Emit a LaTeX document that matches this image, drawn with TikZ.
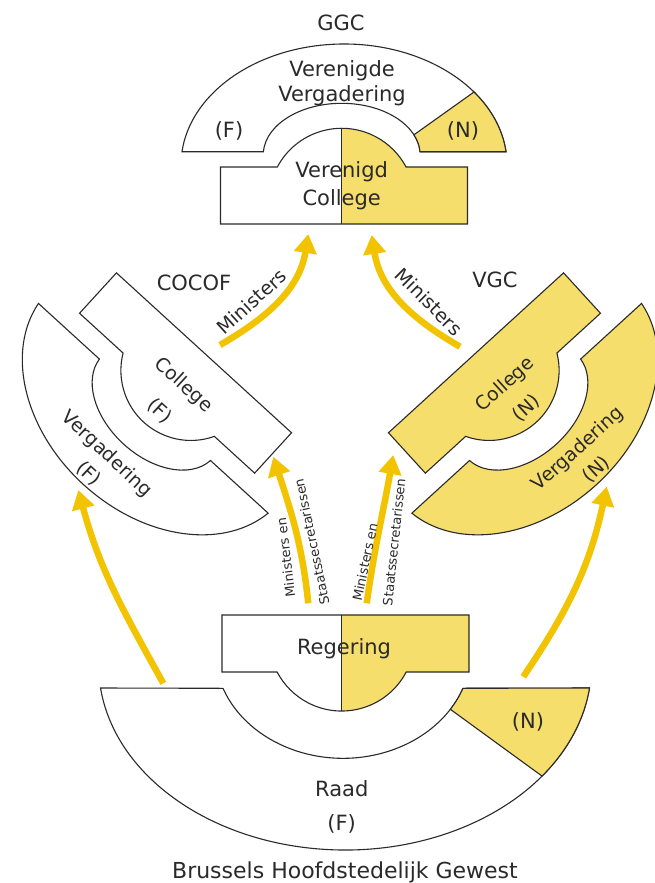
\documentclass[tikz,border=0pt]{standalone}
\usepackage{fontspec}
\setmainfont{DejaVu Sans}
\usetikzlibrary{arrows.meta}
\definecolor{ylw}{HTML}{F6DE6C}
\definecolor{arrowy}{HTML}{F2C300}
\definecolor{ink}{HTML}{2A2A2A}
\newcommand\sidegroup[1]{%
  \filldraw[shp, fill=#1] (162,0) arc[start angle=6.31,end angle=173.69,x radius=163,y radius=121]
     -- (-80.64,0) arc[start angle=176.34,end angle=3.66,x radius=78.5,y radius=51.7] -- cycle;
  \begin{scope}[yshift=-6pt]
    \filldraw[shp, fill=#1] (-123.5,-15.3) -- (-66.68,-15.3) arc[start angle=152.02,end angle=27.98,radius=72.9]
       -- (123.5,-15.3) -- (123.5,-72.3) -- (-123.5,-72.3) -- cycle;
  \end{scope}}
\begin{document}
\begin{tikzpicture}[x=1pt,y=1pt,
  shp/.style={draw=ink, line width=1.1pt, line join=miter},
  arr/.style={draw=arrowy, line width=6.5pt, -{Triangle[length=19pt,width=22pt]}},
  big/.style={font=\fontsize{21}{24}\selectfont, text=ink, inner sep=0pt, align=center},
  mid/.style={text=ink, inner sep=0pt, align=center},
  sml/.style={font=\fontsize{13}{15}\selectfont, text=ink, inner sep=0pt}]
\useasboundingbox[fill=white] (0,0) rectangle (654,-883);

% ---------------- GGC ----------------
\begin{scope}[shift={(344,-151.7)}]
  \filldraw[shp, fill=white] (162,0) arc[start angle=6.31,end angle=173.69,x radius=163,y radius=121]
     -- (-80.64,0) arc[start angle=176.34,end angle=3.66,x radius=78.5,y radius=51.7] -- cycle;
  \filldraw[shp, fill=ylw] (162,0) arc[start angle=6.31,end angle=37.1,x radius=163,y radius=121]
     -- (69.96,16.9) arc[start angle=23.0,end angle=3.66,x radius=78.5,y radius=51.7] -- cycle;
  \fill[white] (-123.5,-15.3) -- (-66.68,-15.3) arc[start angle=152.02,end angle=27.98,radius=72.9]
     -- (123.5,-15.3) -- (123.5,-72.3) -- (-123.5,-72.3) -- cycle;
  \fill[ylw] (-2.3,23.4) arc[start angle=90,end angle=27.98,radius=72.9]
     -- (123.5,-15.3) -- (123.5,-72.3) -- (-2.3,-72.3) -- cycle;
  \draw[shp] (-123.5,-15.3) -- (-66.68,-15.3) arc[start angle=152.02,end angle=27.98,radius=72.9]
     -- (123.5,-15.3) -- (123.5,-72.3) -- (-123.5,-72.3) -- cycle;
  \draw[shp] (-2.3,23.4) -- (-2.3,-72.3);
\end{scope}

% ---------------- COCOF ----------------
\begin{scope}[shift={(153.3,-408.3)}, rotate=137.6, scale=0.96]
  \sidegroup{white}
\end{scope}

% ---------------- VGC (mirror) ----------------
\begin{scope}[shift={(680,0)}, xscale=-1]
  \begin{scope}[shift={(153.3,-408.3)}, rotate=137.6, scale=0.96]
    \sidegroup{ylw}
  \end{scope}
\end{scope}

% ---------------- Raad ----------------
\filldraw[shp, fill=white] (589.5,-688) arc[start angle=-7.14,end angle=-172.86,x radius=246.4,y radius=185]
   -- (223,-688.3) arc[start angle=-159.29,end angle=-20.71,x radius=128.3,y radius=108.3] -- cycle;
\filldraw[shp, fill=ylw] (589.5,-688) arc[start angle=-7.14,end angle=-36.9,x radius=246.4,y radius=185]
   -- (450.35,-709.3) arc[start angle=-33.2,end angle=-20.71,x radius=128.3,y radius=108.3] -- cycle;

% ---------------- Regering ----------------
\fill[white] (222,-615) -- (469,-615) -- (469,-672) -- (406.2,-672)
   arc[start angle=-27.7,end angle=-152.3,radius=72.9] -- (222,-672) -- cycle;
\fill[ylw] (341.7,-615) -- (469,-615) -- (469,-672) -- (406.2,-672)
   arc[start angle=-27.7,end angle=-90,radius=72.9] -- cycle;
\draw[shp] (222,-615) -- (469,-615) -- (469,-672) -- (406.2,-672)
   arc[start angle=-27.7,end angle=-152.3,radius=72.9] -- (222,-672) -- cycle;
\draw[shp] (341.7,-615) -- (341.7,-711);

% ---------------- arrows ----------------
\coordinate (a1s) at (220,-345);     \coordinate (a1e) at (308.3,-234);
\coordinate (a2s) at (460,-346.7);   \coordinate (a2e) at (371.7,-235);
\coordinate (a3s) at (308.3,-603.3); \coordinate (a3e) at (273.3,-456.7);
\coordinate (a4s) at (366.7,-603.3); \coordinate (a4e) at (393.3,-455);
\coordinate (a5s) at (163.3,-683.3); \coordinate (a5e) at (78.3,-490);
\coordinate (a6s) at (523.3,-676.7); \coordinate (a6e) at (606.7,-486.7);
\draw[arr] (a1s) to[out=30,in=-99] (a1e);
\draw[arr] (a2s) to[out=150,in=-81] (a2e);
\draw[arr] (a3s) to[out=96,in=-72] (a3e);
\draw[arr] (a4s) to[out=82,in=-100] (a4e);
\draw[arr] (a5s) to[out=119,in=-75] (a5e);
\draw[arr] (a6s) to[out=56,in=-102] (a6e);

% ---------------- texts ----------------
\node[big] (ggc) at (341,-22.5) {GGC};
\node[big, font=\fontsize{21}{25}\selectfont] (vv) at (342,-83.5) {Verenigde\\Vergadering};
\node[big] (ggcf) at (229,-130.8) {(F)};
\node[big] (ggcn) at (463,-131) {(N)};
\node[big, font=\fontsize{21}{27.5}\selectfont] (vc) at (341.7,-185.5) {Verenigd\\College};
\node[big] (cocof) at (194,-282.5) {COCOF};
\node[big] (vgc) at (495,-280) {VGC};
\node[mid, font=\fontsize{19}{36}\selectfont, rotate=-42.4] (cfc) at (171.7,-397.9) {College\\(F)};
\node[mid, font=\fontsize{19}{27}\selectfont, rotate=-43] (cvg) at (97.9,-463.7) {Vergadering\\(F)};
\node[mid, font=\fontsize{19}{32}\selectfont, rotate=42] (vgcc) at (515.8,-396.3) {College\\(N)};
\node[mid, font=\fontsize{19}{28}\selectfont, rotate=42] (vgcv) at (587,-459) {Vergadering\\(N)};
\node[mid, font=\fontsize{19}{22}\selectfont, rotate=42] (minl) at (251.7,-301.7) {Ministers};
\node[mid, font=\fontsize{19}{22}\selectfont, rotate=-45] (minr) at (429,-301.7) {Ministers};
\node[sml, rotate=97] (msl1) at (285.8,-557.5) {Ministers en};
\node[sml, rotate=102] (msl2) at (311.7,-541.7) {Staatssecretarissen};
\node[sml, rotate=78] (msr1) at (365,-562) {Ministers en};
\node[sml, rotate=84] (msr2) at (394,-542) {Staatssecretarissen};
\node[big] (reg) at (344,-649) {Regering};
\node[big, font=\fontsize{21}{34}\selectfont] (raad) at (341.7,-807) {Raad\\(F)};
\node[big] (raadn) at (528,-721.7) {(N)};
\node[font=\fontsize{22}{26}\selectfont, text=ink, inner sep=0pt, anchor=base] (bhg) at (345,-878.3) {Brussels Hoofdstedelijk Gewest};
\end{tikzpicture}
\end{document}
